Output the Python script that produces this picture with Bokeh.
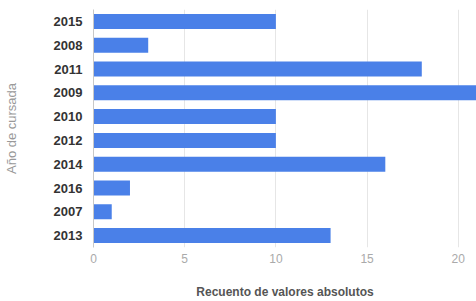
from bokeh.plotting import figure
from bokeh.models import FactorRange, Range1d, FixedTicker
from bokeh.embed import file_html
from bokeh.resources import INLINE

years = ["2015", "2008", "2011", "2009", "2010", "2012", "2014", "2016", "2007", "2013"]
counts = [10, 3, 18, 21, 10, 10, 16, 2, 1, 13]
x_ticks = [0, 5, 10, 15, 20]

p = figure(
    width=476, height=301,
    y_range=FactorRange(*reversed(years)),
    x_range=Range1d(0, 21),
    output_backend="svg", toolbar_location=None,
    min_border_left=92, min_border_right=0, min_border_top=9, min_border_bottom=52,
)
p.outline_line_color = None
p.background_fill_color = "white"
p.border_fill_color = "white"

p.hbar(y=years, right=counts, left=0, height=0.63, color="#4a80e8", line_color=None)

p.xaxis.ticker = FixedTicker(ticks=x_ticks)
p.xaxis.axis_line_color = None
p.xaxis.major_tick_line_color = None
p.xaxis.minor_tick_line_color = None
p.xaxis.major_tick_out = 0
p.xaxis.major_label_text_font = "Liberation Sans"
p.xaxis.major_label_text_font_size = "12px"
p.xaxis.major_label_text_color = "#aaaaaa"
p.xaxis.major_label_standoff = 6
p.xaxis.axis_label = "Recuento de valores absolutos"
p.xaxis.axis_label_text_font = "Liberation Sans"
p.xaxis.axis_label_text_font_size = "12px"
p.xaxis.axis_label_text_font_style = "bold"
p.xaxis.axis_label_text_color = "#555555"
p.xaxis.axis_label_standoff = 19

p.yaxis.axis_line_color = "#c8c8c8"
p.yaxis.major_tick_line_color = None
p.yaxis.minor_tick_line_color = None
p.yaxis.major_tick_out = 0
p.yaxis.major_label_text_font = "Liberation Sans"
p.yaxis.major_label_text_font_size = "13px"
p.yaxis.major_label_text_font_style = "bold"
p.yaxis.major_label_text_color = "#333333"
p.yaxis.major_label_standoff = 11
p.yaxis.axis_label = "Año de cursada"
p.yaxis.axis_label_text_font = "Liberation Sans"
p.yaxis.axis_label_text_font_size = "13px"
p.yaxis.axis_label_text_font_style = "normal"
p.yaxis.axis_label_text_color = "#999999"
p.yaxis.axis_label_standoff = 32

p.xgrid.grid_line_color = "#e6e6e6"
p.ygrid.grid_line_color = None

open("out.html", "w").write(file_html(p, INLINE))
